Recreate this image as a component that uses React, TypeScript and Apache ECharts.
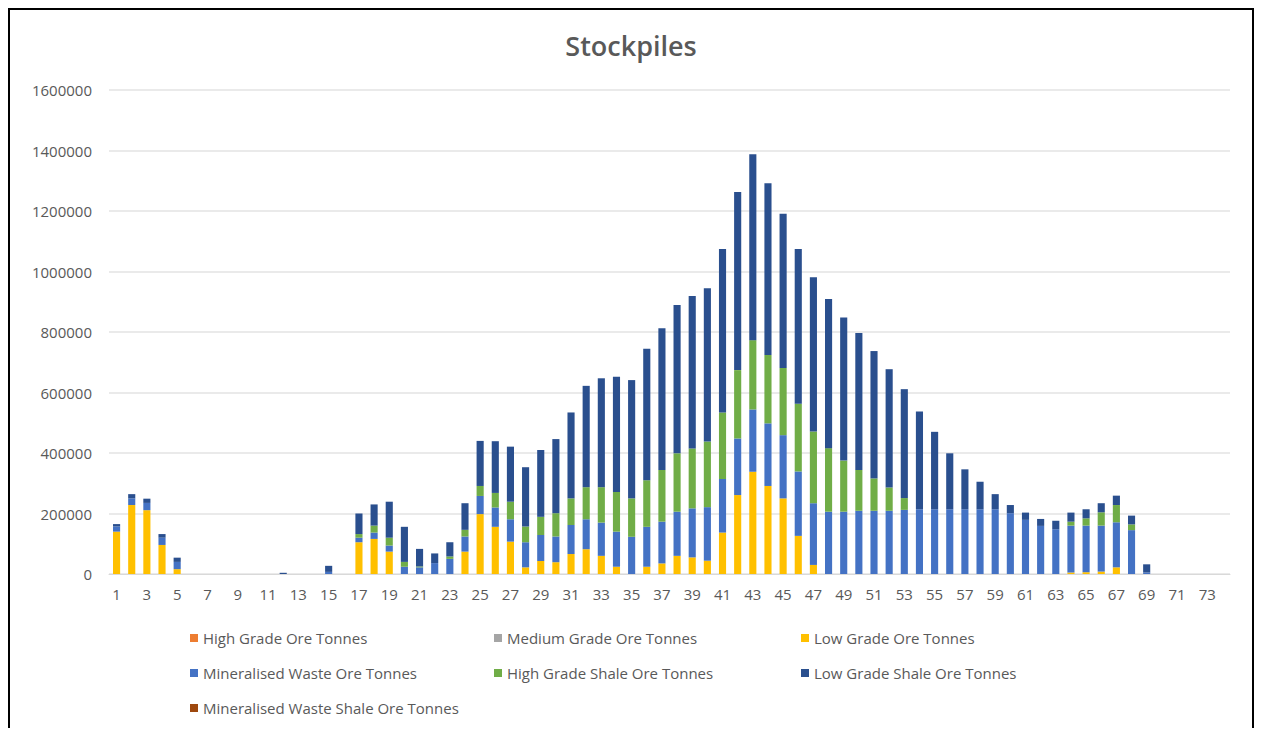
import React, { useEffect, useRef } from "react";
import * as echarts from "echarts";

const categories: string[] = Array.from({ length: 74 }, (_, i) => String(i + 1));

const highGradeOre: number[] = new Array(74).fill(0);
const mediumGradeOre: number[] = new Array(74).fill(0);
const mineralisedWasteShale: number[] = new Array(74).fill(0);

const lowGradeOre: number[] = [
  140000, 228000, 211000, 96000, 16000, 0, 0, 0, 0, 0,
  0, 0, 0, 0, 0, 0, 105000, 116000, 74000, 0,
  0, 0, 0, 74000, 198000, 156000, 107000, 22000, 43000, 39000,
  66000, 82000, 60000, 24000, 0, 24000, 35000, 60000, 55000, 44000,
  137000, 261000, 338000, 291000, 250000, 126000, 30000, 0, 0, 0,
  0, 0, 0, 0, 0, 0, 0, 0, 0, 0,
  0, 0, 0, 5000, 6000, 8000, 22000, 0, 0, 0,
  0, 0, 0, 0,
];

const mineralisedWasteOre: number[] = [
  17000, 22000, 24000, 24000, 24000, 0, 0, 0, 0, 0,
  0, 0, 0, 0, 7000, 0, 15000, 21000, 20000, 24000,
  22000, 36000, 50000, 50000, 60000, 64000, 74000, 83000, 86000, 85000,
  96000, 99000, 110000, 116000, 123000, 132000, 138000, 146000, 162000, 177000,
  177000, 187000, 206000, 207000, 209000, 213000, 204000, 206000, 206000, 209000,
  209000, 209000, 212000, 214000, 214000, 214000, 214000, 214000, 214000, 201000,
  179000, 159000, 148000, 155000, 154000, 152000, 149000, 145000, 5000, 0,
  0, 0, 0, 0,
];

const highGradeShale: number[] = [
  0, 0, 0, 0, 0, 0, 0, 0, 0, 0,
  0, 0, 0, 0, 0, 0, 12000, 23000, 26000, 16000,
  3000, 0, 8000, 22000, 33000, 48000, 58000, 52000, 60000, 77000,
  88000, 106000, 117000, 131000, 127000, 154000, 171000, 193000, 198000, 217000,
  220000, 226000, 229000, 226000, 222000, 224000, 237000, 210000, 169000, 135000,
  107000, 77000, 39000, 0, 0, 0, 0, 0, 0, 0,
  0, 0, 0, 13000, 24000, 44000, 57000, 19000, 0, 0,
  0, 0, 0, 0,
];

const lowGradeShale: number[] = [
  8000, 14000, 14000, 12000, 14000, 0, 0, 0, 0, 0,
  0, 4000, 0, 0, 20000, 0, 68000, 70000, 119000, 116000,
  58000, 32000, 47000, 88000, 149000, 171000, 182000, 196000, 221000, 245000,
  284000, 335000, 360000, 381000, 391000, 435000, 468000, 490000, 504000, 507000,
  540000, 589000, 615000, 568000, 510000, 511000, 510000, 493000, 473000, 453000,
  421000, 391000, 360000, 323000, 256000, 185000, 132000, 91000, 50000, 27000,
  24000, 23000, 28000, 30000, 30000, 30000, 31000, 29000, 27000, 0,
  0, 0, 0, 0,
];

const seriesNames: string[] = [
  "High Grade Ore Tonnes",
  "Medium Grade Ore Tonnes",
  "Low Grade Ore Tonnes",
  "Mineralised Waste Ore Tonnes",
  "High Grade Shale Ore Tonnes",
  "Low Grade Shale Ore Tonnes",
  "Mineralised Waste Shale Ore Tonnes",
];

const seriesColors: string[] = ["#ED7D31", "#A5A5A5", "#FFC000", "#4472C4", "#70AD47", "#2A4F8E", "#9E480E"];

const seriesData: number[][] = [
  highGradeOre,
  mediumGradeOre,
  lowGradeOre,
  mineralisedWasteOre,
  highGradeShale,
  lowGradeShale,
  mineralisedWasteShale,
];

const FONT = "'Open Sans', sans-serif";
const TEXT = "#595959";

export default function App() {
  const ref = useRef<HTMLDivElement>(null);
  useEffect(() => {
    if (!ref.current) return;
    const chart = echarts.init(ref.current, null, { renderer: "svg" });
    const legendText = { color: TEXT, fontSize: 15, fontFamily: FONT, lineHeight: 20 };
    const legendBase = {
      orient: "vertical" as const,
      itemWidth: 8,
      itemHeight: 8,
      itemGap: 15,
      icon: "rect",
      textStyle: legendText,
      selectedMode: false,
      top: 613,
    };
    chart.setOption({
      animation: false,
      backgroundColor: "#ffffff",
      title: {
        text: "Stockpiles",
        left: "center",
        top: 17,
        textStyle: { color: TEXT, fontSize: 27, fontWeight: 600, fontFamily: FONT },
      },
      legend: [
        { ...legendBase, left: 175, data: [seriesNames[0], seriesNames[3], seriesNames[6]] },
        { ...legendBase, left: 479, data: [seriesNames[1], seriesNames[4]] },
        { ...legendBase, left: 786, data: [seriesNames[2], seriesNames[5]] },
      ],
      grid: { left: 99, right: 22, top: 80, bottom: 154 },
      xAxis: {
        type: "category",
        data: categories,
        axisTick: { show: false },
        axisLine: { lineStyle: { color: "#d9d9d9" } },
        axisLabel: { interval: 1, color: TEXT, fontSize: 15, fontFamily: FONT, margin: 12 },
      },
      yAxis: {
        type: "value",
        min: 0,
        max: 1600000,
        interval: 200000,
        axisLine: { show: false },
        axisTick: { show: false },
        splitLine: { lineStyle: { color: "#e3e3e3", width: 1.5 } },
        axisLabel: {
          color: TEXT,
          fontSize: 15,
          fontFamily: FONT,
          margin: 17,
          formatter: (v: number) => String(v),
        },
      },
      series: seriesNames.map((name, i) => ({
        name,
        type: "bar",
        stack: "total",
        barWidth: "47%",
        itemStyle: { color: seriesColors[i] },
        data: seriesData[i],
      })),
    });
    return () => chart.dispose();
  }, []);
  return (
    <div
      style={{
        width: 1246,
        height: 720,
        borderTop: "2px solid #000",
        borderLeft: "2px solid #000",
        borderRight: "2px solid #000",
        boxSizing: "border-box",
        background: "#fff",
      }}
    >
      <div ref={ref} style={{ width: 1242, height: 718 }} />
    </div>
  );
}
